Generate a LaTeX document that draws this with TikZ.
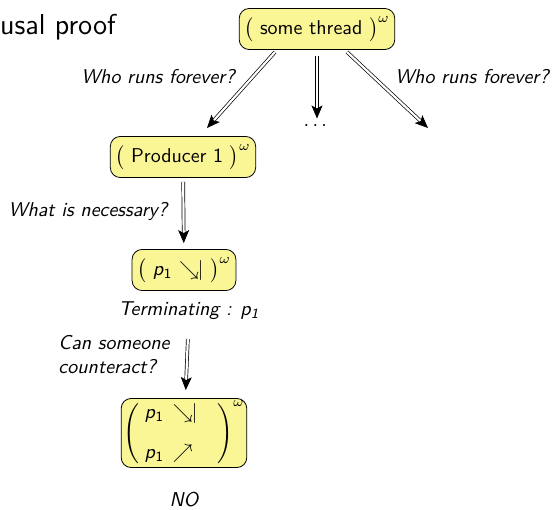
\documentclass[tikz,border=0pt]{standalone}
\usepackage{amsmath, amssymb}
\usetikzlibrary{arrows.meta}
\renewcommand{\familydefault}{\sfdefault}
\definecolor{boxyellow}{RGB}{250,246,150}
\newcommand{\pone}{\textit{p}\textsubscript{1}}

\begin{document}
\begin{tikzpicture}[x=0.5pt, y=-0.5pt]
        \tikzset{goal/.style={draw, fill=boxyellow, rounded corners=5pt, inner xsep=2.5pt, inner ysep=4pt},
                 ask/.style={font=\itshape},
                 infer/.style={double, double distance=1.1pt, line width=0.35pt, -{Stealth[length=6.5pt, width=5.5pt, inset=1.5pt]}}}
        \useasboundingbox (0,0) rectangle (554,510);

        \node [anchor=west, font=\Large] (title) at (-7,27) {usal proof};
        \node [goal] (top) at (317,29) {$\bigl(\text{ some thread }\bigr)^{\omega}$};
        \coordinate (left) at (207,128);
        \coordinate (right) at (428,128);
        \coordinate (fromleft) at (275,52);
        \coordinate (fromright) at (347,52);
        \node (dots) at (317,126) {$\cdots$};
        \node [goal] (prod) at (183,157) {$\bigl(\text{ Producer 1 }\bigr)^{\omega}$};
        \node [goal] (term) at (184,270) {$\bigl(\text{ \pone\ $\searrow\!\!|$ }\bigr)^{\omega}$};
        \node [ask] (termlbl) at (189,311) {Terminating : \pone};
        \node [goal, inner sep=1pt] (cnt) at (184,433) {$\left(\begin{array}{@{\;}l@{}} \text{\pone}\,\searrow\!\!| \\[8pt] \text{\pone}\,\nearrow \end{array}\ \ \ \right)^{\omega}$};
        \node [ask] (no) at (184,500) {NO};

        \draw [infer] (fromleft) -- (left);
        \draw [infer, shorten <=3pt, shorten >=-2pt] (top.south) -- (dots.north);
        \draw [infer] (fromright) -- (right);
        \draw [infer, shorten <=2pt, shorten >=3pt] (prod) -- (term);
        \draw [infer, shorten <=6pt, shorten >=4pt] (termlbl) -- (cnt);

        \node [ask] at (158,77) {Who runs forever?};
        \node [ask] at (472,77) {Who runs forever?};
        \node [ask] at (88,211) {What is necessary?};
        \node [ask, align=left] at (114,355) {Can someone\\counteract?};
\end{tikzpicture}
\end{document}
